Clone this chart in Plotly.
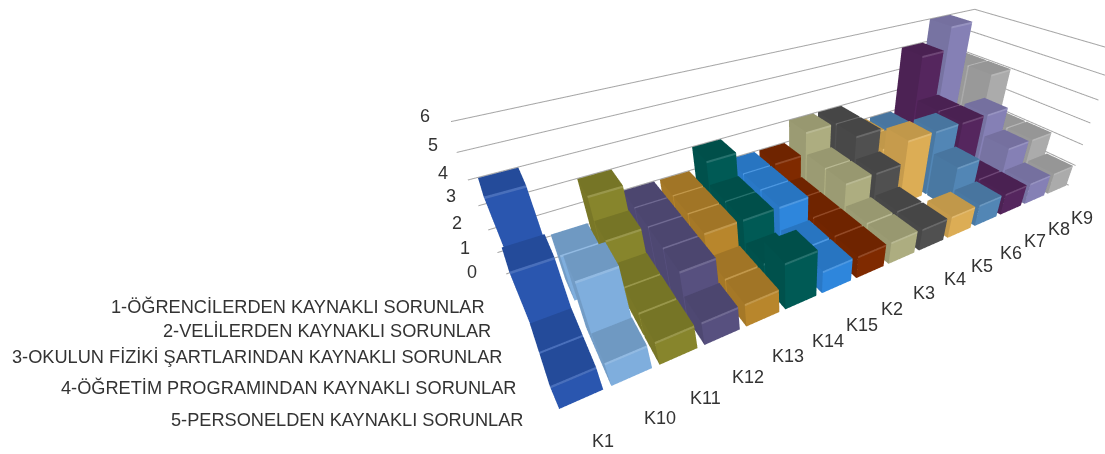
import plotly.graph_objects as go

CATEGORIES = ["K1","K10","K11","K12","K13","K14","K15","K2","K3","K4","K5","K6","K7","K8","K9"]
SERIES = ["1-ÖĞRENCİLERDEN KAYNAKLI SORUNLAR","2-VELİLERDEN KAYNAKLI SORUNLAR",
          "3-OKULUN FİZİKİ ŞARTLARINDAN KAYNAKLI SORUNLAR","4-ÖĞRETİM PROGRAMINDAN KAYNAKLI SORUNLAR",
          "5-PERSONELDEN KAYNAKLI SORUNLAR"]
S1 = [4,0,3,2,2,3,2,2,3,3,2,2,5,6,4]
S2 = [2,2,2,2,2,2,2,1,2,3,2,1,3,2,4]
S3 = [3,0,1,2,2,2,2,1,2,2,3,3,3,3,2]
S4 = [1,3,1,2,1,1,1,1,1,1,0,2,1,2,2]
S5 = [1,1,1,1,1,2,1,1,1,1,1,1,1,1,1]
VALUES = [S1,S2,S3,S4,S5]
ZTICKS = [0,1,2,3,4,5,6]
COLORS = ["#2A56AF","#7FAEDD","#87852C","#57507F","#B8862C","#005A55","#2E86DC","#7F2A00",
          "#ADAD80","#505050","#DCAD55","#5286B5","#55265E","#8580B5","#ABABAB"]
G, DG = 0.08, 0.03
W, H = 1105, 454
SCENE_LEFT_PX = 451
EYE = dict(x=-0.7012, y=-0.9937, z=0.676)
CENTER = dict(x=-0.1956, y=-0.1274, z=-0.0555)
UP = dict(x=-0.4803, y=-0.8269, z=0.8198)
# the axis ranges carry a small symmetric pad so the wall lines are not clipped at the box edge
PAD_X, PAD_Y, PAD_Z = 0.3, 0.1, 0.1
ASPECT = dict(x=1.5*(15+2*PAD_X)/15, y=0.4708*(5+2*PAD_Y)/5, z=0.4046*(6+2*PAD_Z)/6)

def shade(hexc, f):
    c = [int(hexc[i:i+2], 16) for i in (1, 3, 5)]
    if f <= 1:
        c = [int(v*f) for v in c]
    else:
        c = [int(v+(255-v)*(f-1)) for v in c]
    return "#%02x%02x%02x" % tuple(c)

fig = go.Figure()
for i, cat in enumerate(CATEGORIES):
    xs, ys, zs, I, J, K, fc = [], [], [], [], [], [], []
    def quad(a, b, c, d, col):
        n = len(xs)
        for v in (a, b, c, d):
            xs.append(v[0]); ys.append(v[1]); zs.append(v[2])
        I.extend([n, n]); J.extend([n+1, n+2]); K.extend([n+2, n+3]); fc.extend([col, col])
    base = COLORS[i]
    for s, series in enumerate(VALUES):
        v = series[i]
        if v <= 0:
            continue
        x0, x1 = i+G, i+1-G
        y0, y1 = (4-s)+DG, (5-s)-DG
        t = v-.09
        quad((x0,y0,v),(x1,y0,v),(x1,y1,v),(x0,y1,v), shade(base,.88))
        quad((x0,y0,0),(x1,y0,0),(x1,y0,t),(x0,y0,t), base)
        quad((x0,y0,t),(x1,y0,t),(x1,y0,v),(x0,y0,v), shade(base,1.15))
        quad((x0,y0,0),(x0,y1,0),(x0,y1,v),(x0,y0,v), shade(base,.9))
        quad((x1,y0,0),(x1,y1,0),(x1,y1,v),(x1,y0,v), shade(base,.9))
        quad((x0,y1,0),(x1,y1,0),(x1,y1,v),(x0,y1,v), shade(base,.9))
    fig.add_trace(go.Mesh3d(x=xs, y=ys, z=zs, i=I, j=J, k=K, facecolor=fc, flatshading=True, name=cat,
        lighting=dict(ambient=1, diffuse=0, specular=0, roughness=1, fresnel=0), hoverinfo="skip", showscale=False))
for z in ZTICKS:
    fig.add_trace(go.Scatter3d(x=[-.12,0,15,15], y=[5,5,5,0], z=[z]*4, mode="lines",
        line=dict(color="#A6A6A6", width=2), hoverinfo="skip", showlegend=False))

axis = dict(visible=False, showgrid=False, showbackground=False, zeroline=False, showspikes=False)
fig.update_layout(width=W, height=H, margin=dict(l=0, r=0, t=0, b=0), paper_bgcolor="white", showlegend=False,
    scene=dict(domain=dict(x=[SCENE_LEFT_PX/W, 1], y=[0, 1]),
        xaxis=dict(axis, range=[-PAD_X,15+PAD_X]), yaxis=dict(axis, range=[-PAD_Y,5+PAD_Y]), zaxis=dict(axis, range=[-PAD_Z,6+PAD_Z]),
        aspectmode="manual", aspectratio=ASPECT,
        camera=dict(eye=EYE, center=CENTER, up=UP, projection=dict(type="perspective"))))

def lab(text, x, y, anchor, size=18):
    fig.add_annotation(text=text, xref="paper", yref="paper", x=x/W, y=1-y/H, xanchor=anchor, yanchor="middle",
                       showarrow=False, font=dict(family="Liberation Sans", size=size, color="#333333"))
for t, (x, y) in zip(SERIES, [(487,306),(493,331),(505,357),(518,387),(525,420)]):
    lab(t, x, y, "right", 18.2)
for t, (x, y) in zip(ZTICKS[::-1], [(425,116),(433,145),(443,173),(451,196),(457,223),(465,248),(472,272)]):
    lab(str(t), x, y, "center")
for t, (x, y) in zip(CATEGORIES, [(603,441),(660,418),(705,398),(748,377),(788,356),(828,341),(862,325),(892,309),
                                  (924,293),(955,279),(982,266),(1011,253),(1035,241),(1059,229),(1082,218)]):
    lab(t, x, y, "center")
fig.write_html("out.html", config=dict(displayModeBar=False), post_script="document.body.style.margin='0';")
